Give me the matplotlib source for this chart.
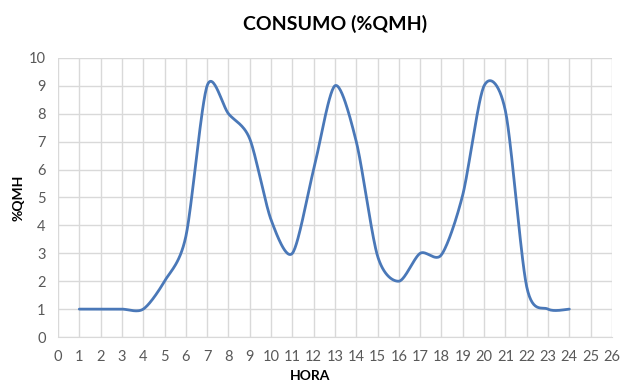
import matplotlib.pyplot as plt
import numpy as np

# hourly consumption (% of QMH)
horas = [1, 2, 3, 4, 5, 6, 7, 8, 9, 10, 11, 12, 13, 14, 15, 16, 17, 18, 19, 20, 21, 22, 23, 24]
consumo = [1, 1, 1, 1, 2, 3.6, 9, 8, 7.1, 4.2, 3, 6, 9, 7, 2.9, 2, 3, 2.95, 5.1, 9, 8.1, 1.8, 1, 1]

x_ticks = list(range(0, 27))
y_ticks = list(range(0, 11))


def smooth(x, y, k=0.42, steps=30):
    # cardinal spline through every point, like a spreadsheet "smoothed line"
    x = np.asarray(x, float)
    y = np.asarray(y, float)
    px = np.concatenate([[x[0]], x, [x[-1]]])
    py = np.concatenate([[y[0]], y, [y[-1]]])
    xs, ys = [], []
    t = np.linspace(0, 1, steps)
    h00 = 2 * t**3 - 3 * t**2 + 1
    h10 = t**3 - 2 * t**2 + t
    h01 = -2 * t**3 + 3 * t**2
    h11 = t**3 - t**2
    for i in range(1, len(px) - 2):
        mx0 = (px[i + 1] - px[i - 1]) * k
        mx1 = (px[i + 2] - px[i]) * k
        my0 = (py[i + 1] - py[i - 1]) * k
        my1 = (py[i + 2] - py[i]) * k
        xs.append(h00 * px[i] + h10 * mx0 + h01 * px[i + 1] + h11 * mx1)
        ys.append(h00 * py[i] + h10 * my0 + h01 * py[i + 1] + h11 * my1)
    return np.concatenate(xs), np.concatenate(ys)


plt.rcParams['font.family'] = ['Lato', 'DejaVu Sans']

fig = plt.figure(figsize=(6.21, 3.83), dpi=100)
ax = fig.add_axes([0.0934, 0.120, 0.892, 0.729])

sx, sy = smooth(horas, consumo)
ax.plot(sx, sy, color='#4a78b8', linewidth=2, solid_capstyle='round')

ax.set_xlim(0, 26)
ax.set_ylim(0, 10)
ax.set_xticks(x_ticks)
ax.set_yticks(y_ticks)
ax.grid(True, color='#d9d9d9', linewidth=1)
ax.set_axisbelow(True)
for s in ['top', 'right', 'left']:
    ax.spines[s].set_visible(False)
ax.spines['bottom'].set_color('#d9d9d9')
ax.tick_params(length=0, colors='#595959', labelsize=10.5, pad=9)

ax.set_title('CONSUMO (%QMH)', fontsize=14, fontweight='bold', pad=20)
ax.set_xlabel('HORA', fontsize=10, fontweight='bold', va='center')
ax.xaxis.set_label_coords(0.455, -0.14)
ax.set_ylabel('%QMH', fontsize=10, fontweight='bold', va='center')
ax.yaxis.set_label_coords(-0.072, 0.5)

fig.savefig('out.png', dpi=100)
